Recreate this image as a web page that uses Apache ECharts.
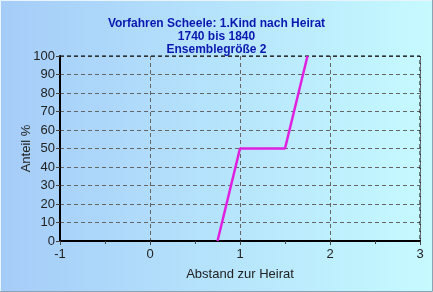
<!DOCTYPE html>
<html><head><meta charset="utf-8">
<script src="https://cdn.jsdelivr.net/npm/echarts@6/dist/echarts.min.js"></script>
<style>html,body{margin:0;padding:0;}#c{width:433px;height:292px;}</style>
</head><body><div id="c"></div>
<script>
var titleLines = ['Vorfahren Scheele: 1.Kind nach Heirat', '1740 bis 1840', 'Ensemblegröße 2'];
var xValues = [0.75, 1, 1.5, 1.75];
var yValues = [0, 50, 50, 100];
var xLabel = 'Abstand zur Heirat';
var yLabel = 'Anteil %';

var chart = echarts.init(document.getElementById('c'));
chart.setOption({
  animation: false,
  backgroundColor: new echarts.graphic.LinearGradient(0, 0, 1, 0, [
    {offset: 0, color: '#a5ccf8'}, {offset: 1, color: '#c6faff'}
  ]),
  title: {
    text: titleLines.join('\n'), left: 'center', top: 12,
    textStyle: {fontFamily: 'Liberation Sans, Arial', fontWeight: 'bold', fontSize: 12, color: '#0a18b0', lineHeight: 13}
  },
  graphic: [
    {type: 'rect', shape: {x: 0.5, y: 0.5, width: 432, height: 291}, style: {fill: 'none', stroke: '#e8f4ff', lineWidth: 1}, silent: true},
    {type: 'polyline', shape: {points: [[432.5, 0], [432.5, 291.5], [0, 291.5]]}, style: {stroke: '#8aa4b4', lineWidth: 1, fill: 'none'}, silent: true},
    {type: 'polyline', shape: {points: [[60, 56], [420, 56], [420, 241]]}, style: {stroke: '#000', lineWidth: 1, lineDash: [4, 3], fill: 'none'}, silent: true, z: 5}
  ],
  grid: {left: 60, right: 13, top: 56, bottom: 51, containLabel: false},
  xAxis: {
    type: 'value', min: -1, max: 3, interval: 1,
    name: xLabel, nameLocation: 'middle', nameGap: 27, nameMoveOverlap: false,
    nameTextStyle: {fontFamily: 'Liberation Sans, Arial', fontSize: 13, color: '#222'},
    axisLine: {onZero: false, lineStyle: {color: '#000', width: 2}},
    axisTick: {show: true, length: 4, lineStyle: {color: '#444'}},
    minorTick: {show: true, splitNumber: 2, length: 3, lineStyle: {color: '#444'}},
    axisLabel: {fontFamily: 'Liberation Sans, Arial', fontSize: 13, color: '#222', margin: 7},
    splitLine: {show: true, lineStyle: {color: '#666', type: [4, 3]}}
  },
  yAxis: {
    type: 'value', min: 0, max: 100, interval: 10,
    name: yLabel, nameLocation: 'middle', nameGap: 27, nameMoveOverlap: false,
    nameTextStyle: {fontFamily: 'Liberation Sans, Arial', fontSize: 13, color: '#222'},
    axisLine: {show: true, onZero: false, lineStyle: {color: '#000', width: 2}},
    axisTick: {show: true, length: 4, lineStyle: {color: '#444'}},
    axisLabel: {fontFamily: 'Liberation Sans, Arial', fontSize: 13, color: '#222', margin: 5},
    splitLine: {show: true, lineStyle: {color: '#666', type: [4, 3]}}
  },
  series: [{
    type: 'line', data: xValues.map(function (x, i) { return [x, yValues[i]]; }),
    showSymbol: false, lineStyle: {color: '#e020e0', width: 2.5}, z: 10, clip: false
  }]
});
</script></body></html>
